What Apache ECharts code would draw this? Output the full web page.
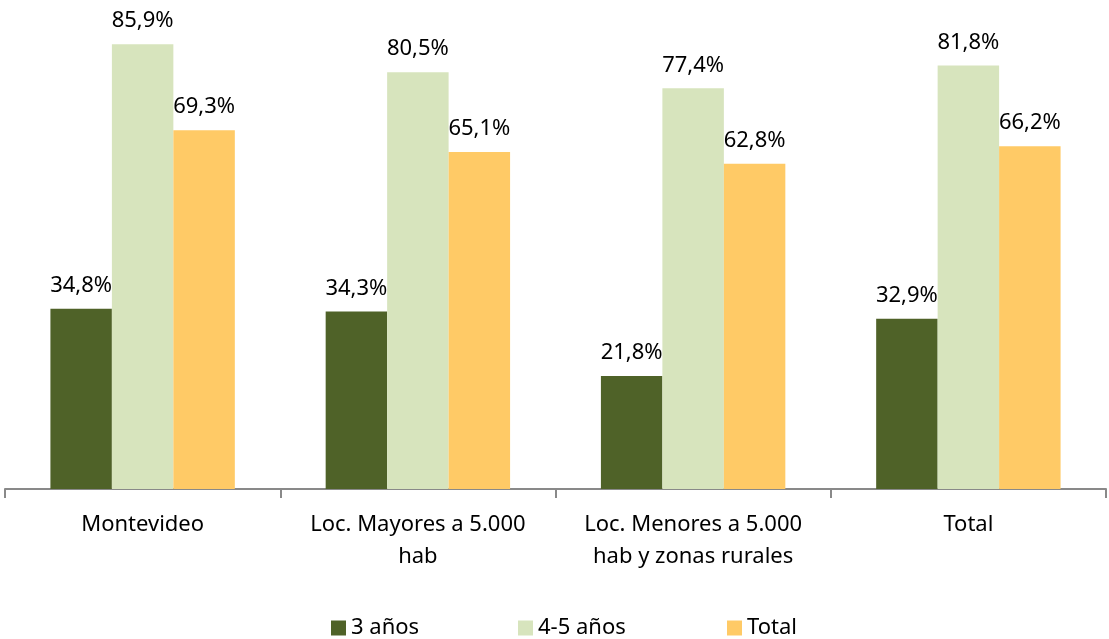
<!DOCTYPE html>
<html><head><meta charset="utf-8">
<script src="https://cdn.jsdelivr.net/npm/echarts@6/dist/echarts.min.js"></script>
<style>html,body{margin:0;padding:0;background:#fff}#c{width:1109px;height:639px}</style>
</head><body><div id="c"></div>
<script>
const categories = ['Montevideo', 'Loc. Mayores a 5.000\nhab', 'Loc. Menores a 5.000\nhab y zonas rurales', 'Total'];
const seriesNames = ['3 años', '4-5 años', 'Total'];
const tres = [34.8, 34.3, 21.8, 32.9];
const cuatroCinco = [85.9, 80.5, 77.4, 81.8];
const total = [69.3, 65.1, 62.8, 66.2];
const colors = ['#4F6228', '#D7E4BD', '#FFCA66'];
const font = '"Noto Sans", sans-serif';
const fmt = p => p.value.toFixed(1).replace('.', ',') + '%';
const data = [tres, cuatroCinco, total];
const chart = echarts.init(document.getElementById('c'));
const legendLefts = [326, 513, 722];
chart.setOption({
  animation: false,
  grid: {left: 5, right: 3, top: 23, bottom: 150},
  legend: seriesNames.map((n, i) => ({
    data: [n], left: legendLefts[i], top: 612, itemWidth: 15, itemHeight: 15, icon: 'rect', itemGap: 0,
    textStyle: {fontFamily: font, fontSize: 22, color: '#000'}
  })),
  xAxis: {
    type: 'category', data: categories,
    axisLine: {lineStyle: {color: '#898989', width: 2}},
    axisTick: {show: true, interval: 0, length: 9, lineStyle: {color: '#898989', width: 2}},
    axisLabel: {interval: 0, fontFamily: font, fontSize: 22, color: '#000', margin: 20, lineHeight: 32}
  },
  yAxis: {type: 'value', min: 0, max: 90, show: false, splitLine: {show: false}},
  series: data.map((d, i) => ({
    name: seriesNames[i], type: 'bar', data: d, barGap: '0%', barCategoryGap: '33%',
    itemStyle: {color: colors[i]},
    label: {show: true, position: 'top', distance: 12, formatter: fmt, fontFamily: font, fontSize: 22, color: '#000'}
  }))
});
</script></body></html>
